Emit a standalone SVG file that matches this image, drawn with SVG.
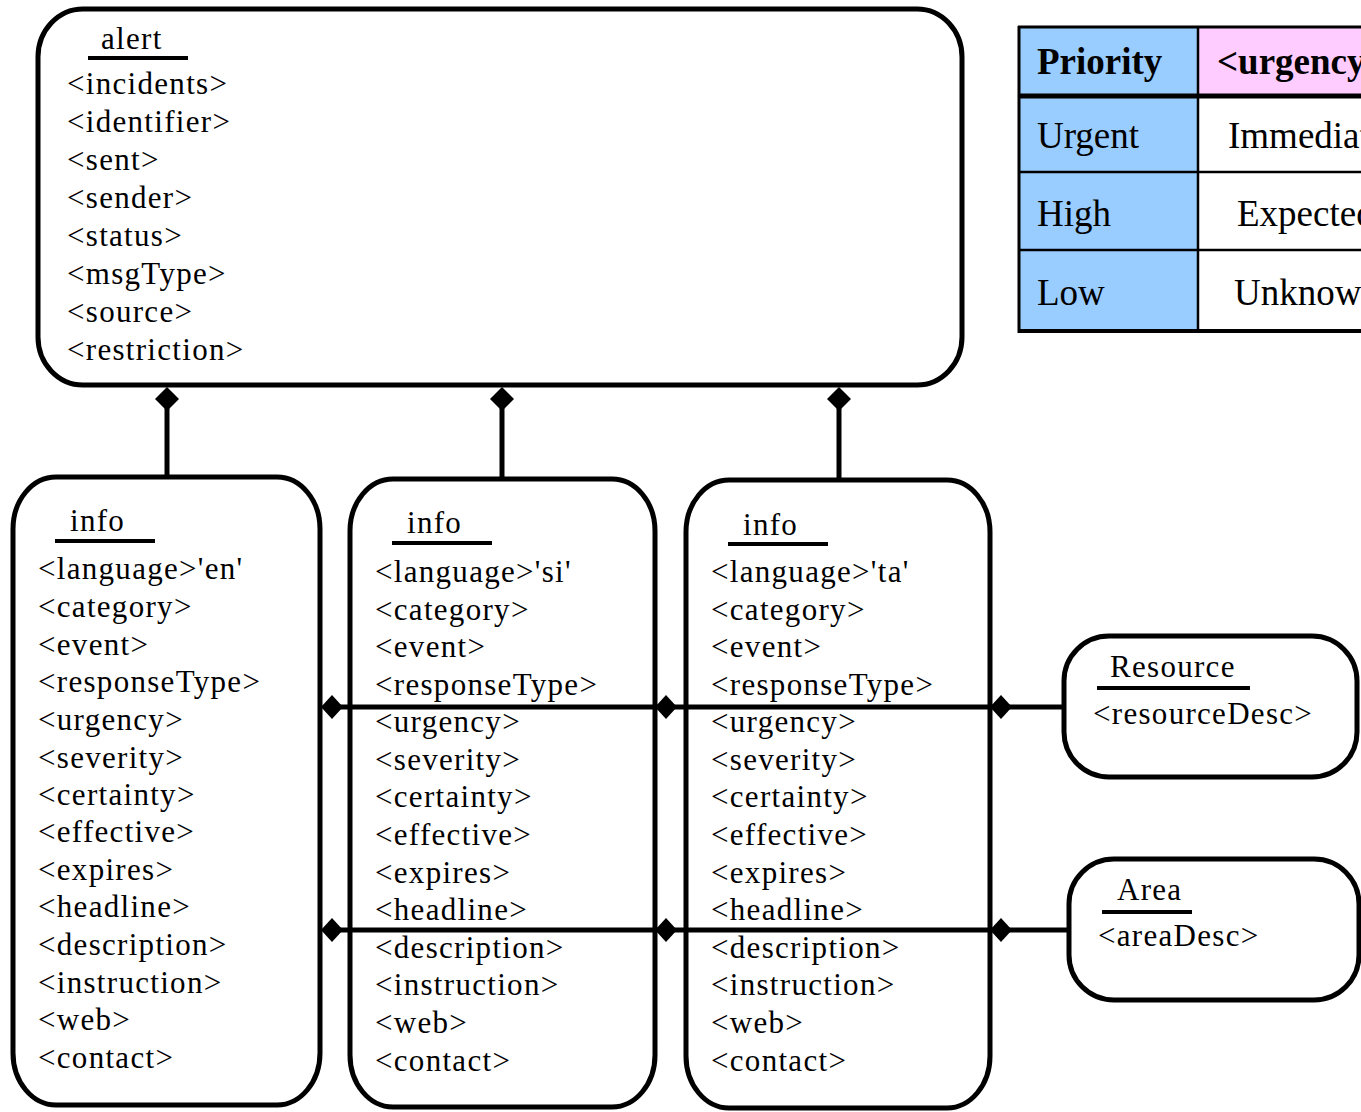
<svg xmlns="http://www.w3.org/2000/svg" width="1361" height="1112" viewBox="0 0 1361 1112">
<style>
.box{fill:#fff;stroke:#000;stroke-width:5}
.t{font-family:"Liberation Serif",serif;font-size:31px;letter-spacing:1.3px;fill:#000}
.ul{stroke:#000;stroke-width:4}
.con{stroke:#000;stroke-width:5;fill:none}
.dia{fill:#000}
.tb{font-family:"Liberation Serif",serif;font-size:37px;fill:#000}
.tbb{font-family:"Liberation Serif",serif;font-size:37px;font-weight:bold;fill:#000}
</style>
<rect width="1361" height="1112" fill="#fff"/>

<g id="alert">
<rect class="box" x="38" y="9" width="924" height="376" rx="45" ry="48"/>
<text class="t" x="101" y="49">alert</text>
<line class="ul" x1="88" y1="58" x2="188" y2="58"/>
<text class="t" x="67" y="94">&lt;incidents&gt;</text>
<text class="t" x="67" y="132">&lt;identifier&gt;</text>
<text class="t" x="67" y="170">&lt;sent&gt;</text>
<text class="t" x="67" y="208">&lt;sender&gt;</text>
<text class="t" x="67" y="246">&lt;status&gt;</text>
<text class="t" x="67" y="284">&lt;msgType&gt;</text>
<text class="t" x="67" y="322">&lt;source&gt;</text>
<text class="t" x="67" y="360">&lt;restriction&gt;</text>
</g>

<g id="table">
<rect x="1018" y="27" width="180" height="303" fill="#99ccff"/>
<rect x="1198" y="27" width="163" height="69" fill="#ffccff"/>
<rect x="1198" y="96" width="163" height="234" fill="#fff"/>
<line x1="1018" y1="27" x2="1361" y2="27" stroke="#000" stroke-width="3"/>
<line x1="1018" y1="96" x2="1361" y2="96" stroke="#000" stroke-width="5"/>
<line x1="1018" y1="172" x2="1361" y2="172" stroke="#000" stroke-width="2.5"/>
<line x1="1018" y1="250" x2="1361" y2="250" stroke="#000" stroke-width="2.5"/>
<line x1="1018" y1="331" x2="1361" y2="331" stroke="#000" stroke-width="4"/>
<line x1="1019" y1="26" x2="1019" y2="333" stroke="#000" stroke-width="3"/>
<line x1="1198" y1="27" x2="1198" y2="331" stroke="#000" stroke-width="2.5"/>
<text class="tbb" x="1037" y="74">Priority</text>
<text class="tbb" x="1217" y="74">&lt;urgency&gt;</text>
<text class="tb" x="1037" y="148">Urgent</text>
<text class="tb" x="1228" y="148">Immediate</text>
<text class="tb" x="1037" y="226">High</text>
<text class="tb" x="1237" y="226">Expected</text>
<text class="tb" x="1037" y="305">Low</text>
<text class="tb" x="1234" y="305">Unknown</text>
</g>

<g id="info-en">
<rect class="box" x="13" y="477" width="307" height="628" rx="43" ry="52"/>
<text class="t" x="70" y="531">info</text>
<line class="ul" x1="55" y1="541" x2="155" y2="541"/>
<text class="t" x="38" y="579">&lt;language&gt;'en'</text>
<text class="t" x="38" y="617">&lt;category&gt;</text>
<text class="t" x="38" y="655">&lt;event&gt;</text>
<text class="t" x="38" y="692">&lt;responseType&gt;</text>
<text class="t" x="38" y="730">&lt;urgency&gt;</text>
<text class="t" x="38" y="768">&lt;severity&gt;</text>
<text class="t" x="38" y="805">&lt;certainty&gt;</text>
<text class="t" x="38" y="842">&lt;effective&gt;</text>
<text class="t" x="38" y="880">&lt;expires&gt;</text>
<text class="t" x="38" y="917">&lt;headline&gt;</text>
<text class="t" x="38" y="955">&lt;description&gt;</text>
<text class="t" x="38" y="993">&lt;instruction&gt;</text>
<text class="t" x="38" y="1030">&lt;web&gt;</text>
<text class="t" x="38" y="1068">&lt;contact&gt;</text>
</g>

<g id="info-si">
<rect class="box" x="350" y="479" width="305" height="628" rx="43" ry="52"/>
<text class="t" x="407" y="533">info</text>
<line class="ul" x1="392" y1="543" x2="492" y2="543"/>
<text class="t" x="375" y="582">&lt;language&gt;'si'</text>
<text class="t" x="375" y="620">&lt;category&gt;</text>
<text class="t" x="375" y="657">&lt;event&gt;</text>
<text class="t" x="375" y="695">&lt;responseType&gt;</text>
<text class="t" x="375" y="732">&lt;urgency&gt;</text>
<text class="t" x="375" y="770">&lt;severity&gt;</text>
<text class="t" x="375" y="807">&lt;certainty&gt;</text>
<text class="t" x="375" y="845">&lt;effective&gt;</text>
<text class="t" x="375" y="883">&lt;expires&gt;</text>
<text class="t" x="375" y="920">&lt;headline&gt;</text>
<text class="t" x="375" y="958">&lt;description&gt;</text>
<text class="t" x="375" y="995">&lt;instruction&gt;</text>
<text class="t" x="375" y="1033">&lt;web&gt;</text>
<text class="t" x="375" y="1071">&lt;contact&gt;</text>
</g>

<g id="info-ta">
<rect class="box" x="686" y="480" width="304" height="628" rx="43" ry="52"/>
<text class="t" x="743" y="535">info</text>
<line class="ul" x1="728" y1="544" x2="828" y2="544"/>
<text class="t" x="711" y="582">&lt;language&gt;'ta'</text>
<text class="t" x="711" y="620">&lt;category&gt;</text>
<text class="t" x="711" y="657">&lt;event&gt;</text>
<text class="t" x="711" y="695">&lt;responseType&gt;</text>
<text class="t" x="711" y="732">&lt;urgency&gt;</text>
<text class="t" x="711" y="770">&lt;severity&gt;</text>
<text class="t" x="711" y="807">&lt;certainty&gt;</text>
<text class="t" x="711" y="845">&lt;effective&gt;</text>
<text class="t" x="711" y="883">&lt;expires&gt;</text>
<text class="t" x="711" y="920">&lt;headline&gt;</text>
<text class="t" x="711" y="958">&lt;description&gt;</text>
<text class="t" x="711" y="995">&lt;instruction&gt;</text>
<text class="t" x="711" y="1033">&lt;web&gt;</text>
<text class="t" x="711" y="1071">&lt;contact&gt;</text>
</g>

<g id="resource">
<rect class="box" x="1064" y="636" width="293" height="141" rx="45" ry="45"/>
<text class="t" x="1110" y="677">Resource</text>
<line class="ul" x1="1097" y1="688" x2="1250" y2="688"/>
<text class="t" x="1093" y="724">&lt;resourceDesc&gt;</text>
</g>

<g id="area">
<rect class="box" x="1069" y="859" width="290" height="141" rx="45" ry="45"/>
<text class="t" x="1117" y="900">Area</text>
<line class="ul" x1="1102" y1="912" x2="1192" y2="912"/>
<text class="t" x="1098" y="946">&lt;areaDesc&gt;</text>
</g>

<g id="connectors">
<line class="con" x1="167" y1="405" x2="167" y2="477"/>
<line class="con" x1="502" y1="405" x2="502" y2="479"/>
<line class="con" x1="839" y1="405" x2="839" y2="480"/>
<polygon class="dia" points="167,387 179,399 167,411 155,399"/>
<polygon class="dia" points="502,387 514,399 502,411 490,399"/>
<polygon class="dia" points="839,387 851,399 839,411 827,399"/>
<line class="con" x1="335" y1="707" x2="1064" y2="707"/>
<line class="con" x1="335" y1="930" x2="1069" y2="930"/>
<polygon class="dia" points="321,707 332,695 343,707 332,719"/>
<polygon class="dia" points="655,707 666,695 677,707 666,719"/>
<polygon class="dia" points="990,707 1001,695 1012,707 1001,719"/>
<polygon class="dia" points="321,930 332,918 343,930 332,942"/>
<polygon class="dia" points="655,930 666,918 677,930 666,942"/>
<polygon class="dia" points="990,930 1001,918 1012,930 1001,942"/>
</g>
</svg>
